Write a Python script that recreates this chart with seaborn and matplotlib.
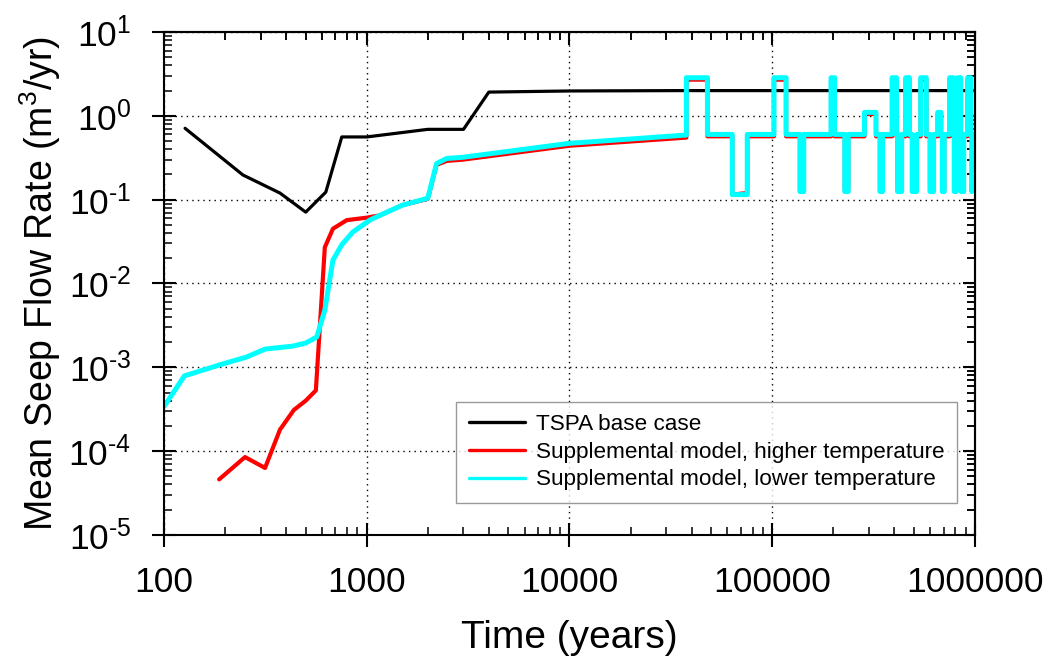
import numpy as np
import pandas as pd
import matplotlib
matplotlib.use("Agg")
import matplotlib.pyplot as plt
import seaborn as sns
from matplotlib.ticker import LogLocator, NullFormatter, FixedLocator, FixedFormatter

# ---------------- data ----------------
tspa_t = [127, 245, 373, 500, 628, 753, 1000, 2000, 3000, 4000, 10000, 35000, 1000000]
tspa_v = [0.71, 0.197, 0.12, 0.071, 0.123, 0.56, 0.56, 0.69, 0.69, 1.92, 1.98, 2.0, 2.0]

# shared time axis of the pulse region (both supplemental runs step at the same times)
pulse_t = [37700, 37700, 47900, 47900, 63500, 63500, 75300, 75300,
           102000, 102000, 117000, 117000, 137000, 137000, 143000, 143000,
           195000, 195000, 203000, 203000, 228000, 228000, 237000, 237000,
           285000, 285000, 325000, 325000, 340000, 340000, 350000, 350000,
           390000, 390000, 410000, 410000, 415000, 415000, 435000, 435000,
           455000, 455000, 475000, 475000, 490000, 490000, 515000, 515000,
           540000, 540000, 575000, 575000, 600000, 600000, 625000, 625000,
           655000, 655000, 680000, 680000, 690000, 690000, 705000, 705000,
           750000, 750000, 780000, 780000, 790000, 790000, 810000, 810000,
           820000, 820000, 850000, 850000, 855000, 855000, 880000, 880000,
           920000, 920000, 955000, 955000, 965000, 965000, 1000000]

hi_t = [187, 251, 315, 373, 437, 500, 561, 621, 681, 797, 1000, 1160, 1500, 2000,
        2210, 2480, 2970, 10000] + pulse_t
hi_v = [4.6e-5, 8.5e-5, 6.3e-5, 1.8e-4, 3.1e-4, 4.0e-4, 5.3e-4, 0.027, 0.045, 0.057,
        0.061, 0.065, 0.086, 0.102, 0.26, 0.29, 0.30, 0.44,
        0.55, 2.7, 2.7, 0.57, 0.57, 0.115, 0.12, 0.57,
        0.57, 2.7, 2.7, 0.57, 0.57, 0.13, 0.13, 0.57,
        0.57, 2.7, 2.7, 0.57, 0.57, 0.13, 0.13, 0.57,
        0.57, 1.05, 1.05, 0.57, 0.57, 0.13, 0.13, 0.57,
        0.57, 2.7, 2.7, 0.57, 0.57, 0.13, 0.13, 0.57,
        0.57, 2.7, 2.7, 0.57, 0.57, 0.13, 0.13, 0.57,
        0.57, 2.7, 2.7, 0.57, 0.57, 0.13, 0.13, 0.57,
        0.57, 1.05, 1.05, 0.57, 0.57, 0.13, 0.13, 0.57,
        0.57, 2.7, 2.7, 0.57, 0.57, 0.13, 0.13, 0.57,
        0.57, 2.7, 2.7, 0.57, 0.57, 0.13, 0.13, 0.57,
        0.57, 2.7, 2.7, 0.57, 0.57, 0.13, 0.57]

lo_t = [100, 126, 193, 254, 315, 432, 500, 567, 621, 681, 753, 853, 1035, 1160, 1500, 2000,
        2210, 2480, 2970, 10000] + pulse_t
lo_v = [3.4e-4, 7.9e-4, 1.09e-3, 1.32e-3, 1.65e-3, 1.79e-3, 1.95e-3, 2.3e-3, 4.8e-3, 0.019,
        0.029, 0.041, 0.057, 0.065, 0.086, 0.104, 0.27, 0.31, 0.32, 0.47,
        0.59, 2.85, 2.85, 0.6, 0.6, 0.115, 0.115, 0.6,
        0.6, 2.85, 2.85, 0.6, 0.6, 0.125, 0.125, 0.6,
        0.6, 2.85, 2.85, 0.6, 0.6, 0.125, 0.125, 0.6,
        0.6, 1.1, 1.1, 0.6, 0.6, 0.125, 0.125, 0.6,
        0.6, 2.85, 2.85, 0.6, 0.6, 0.125, 0.125, 0.6,
        0.6, 2.85, 2.85, 0.6, 0.6, 0.125, 0.125, 0.6,
        0.6, 2.85, 2.85, 0.6, 0.6, 0.125, 0.125, 0.6,
        0.6, 1.1, 1.1, 0.6, 0.6, 0.125, 0.125, 0.6,
        0.6, 2.85, 2.85, 0.6, 0.6, 0.125, 0.125, 0.6,
        0.6, 2.85, 2.85, 0.6, 0.6, 0.125, 0.125, 0.6,
        0.6, 2.85, 2.85, 0.6, 0.6, 0.125, 0.6]

labels = ["TSPA base case",
          "Supplemental model, higher temperature",
          "Supplemental model, lower temperature"]

x_ticks = [100, 1000, 10000, 100000, 1000000]
x_ticklabels = ["100", "1000", "10000", "100000", "1000000"]
y_ticks = [1e-5, 1e-4, 1e-3, 1e-2, 1e-1, 1e0, 1e1]
y_exponents = ["-5", "-4", "-3", "-2", "-1", "0", "1"]

# ---------------- plotting ----------------
sns.set_style("white")
plt.rcParams['font.family'] = ['Liberation Sans', 'DejaVu Sans']
plt.rcParams['mathtext.fontset'] = 'custom'
plt.rcParams['mathtext.rm'] = 'Liberation Sans'
plt.rcParams['mathtext.it'] = 'Liberation Sans'
plt.rcParams['axes.unicode_minus'] = False
plt.rcParams['text.color'] = 'black'
plt.rcParams['axes.labelcolor'] = 'black'
plt.rcParams['xtick.color'] = 'black'
plt.rcParams['ytick.color'] = 'black'

fig = plt.figure(figsize=(10.46, 6.56), dpi=100)
ax = fig.add_axes([0.1568, 0.1845, 0.7753, 0.7667])

df_tspa = pd.DataFrame({"t": tspa_t, "v": tspa_v})
df_hi = pd.DataFrame({"t": hi_t, "v": hi_v})
df_lo = pd.DataFrame({"t": lo_t, "v": lo_v})

sns.lineplot(data=df_tspa, x="t", y="v", sort=False, estimator=None, ax=ax,
             color="black", lw=2.3, label=labels[0])
sns.lineplot(data=df_hi, x="t", y="v", sort=False, estimator=None, ax=ax,
             color="#ff0000", lw=3.0, label=labels[1])
sns.lineplot(data=df_lo, x="t", y="v", sort=False, estimator=None, ax=ax,
             color="#00ffff", lw=3.6, label=labels[2])

ax.set_xscale("log")
ax.set_yscale("log")
ax.set_xlim(100, 1000000)
ax.set_ylim(1e-5, 10)

ax.xaxis.set_major_locator(FixedLocator(x_ticks))
ax.xaxis.set_major_formatter(FixedFormatter(x_ticklabels))
ax.xaxis.set_minor_locator(LogLocator(base=10, subs=np.arange(2, 10), numticks=20))
ax.xaxis.set_minor_formatter(NullFormatter())
ax.yaxis.set_major_locator(FixedLocator(y_ticks))
ax.yaxis.set_major_formatter(FixedFormatter([r"10$^{\text{%s}}$" % e for e in y_exponents]))
ax.yaxis.set_minor_locator(LogLocator(base=10, subs=np.arange(2, 10), numticks=20))
ax.yaxis.set_minor_formatter(NullFormatter())

ax.tick_params(which="major", direction="inout", length=17, width=1.5,
               bottom=True, left=True, top=False, right=False, labelsize=25.5)
ax.tick_params(axis="x", which="major", pad=14)
ax.tick_params(axis="y", which="major", pad=15)
ax.tick_params(which="minor", direction="in", length=5.5, width=1.1,
               bottom=True, left=True, top=True, right=True)

# top / right: inward-only major ticks
secx = ax.secondary_xaxis("top")
secx.xaxis.set_major_locator(FixedLocator(x_ticks))
secx.xaxis.set_minor_locator(LogLocator(base=10, subs=np.arange(2, 10), numticks=20))
secx.tick_params(which="major", direction="in", length=9, width=1.5, labeltop=False)
secx.tick_params(which="minor", direction="in", length=5.5, width=1.1)
secy = ax.secondary_yaxis("right")
secy.yaxis.set_major_locator(FixedLocator(y_ticks))
secy.yaxis.set_minor_locator(LogLocator(base=10, subs=np.arange(2, 10), numticks=20))
secy.tick_params(which="major", direction="in", length=9, width=1.5, labelright=False)
secy.tick_params(which="minor", direction="in", length=5.5, width=1.1)
for sa in (secx, secy):
    for s in sa.spines.values():
        s.set_linewidth(1.5)
        s.set_color("black")

for s in ax.spines.values():
    s.set_color("black")
    s.set_linewidth(1.5)

ax.grid(True, which="major", linestyle=(0, (1, 3)), color="black", lw=1.0)

ax.set_xlabel("Time (years)", fontsize=28, labelpad=15)
ax.set_ylabel("Mean Seep Flow Rate (m$^3$/yr)", fontsize=27, labelpad=4)

leg = ax.legend(loc="lower right", bbox_to_anchor=(0.978, 0.064), fontsize=16.2,
                frameon=True, fancybox=False, edgecolor="#808080",
                handlelength=2.5, handletextpad=0.5, borderpad=0.55,
                labelspacing=0.3, borderaxespad=0)
leg.get_frame().set_linewidth(1.0)
for h in leg.get_lines():
    h.set_linewidth(2.4)

fig.savefig("out.png", dpi=100)
